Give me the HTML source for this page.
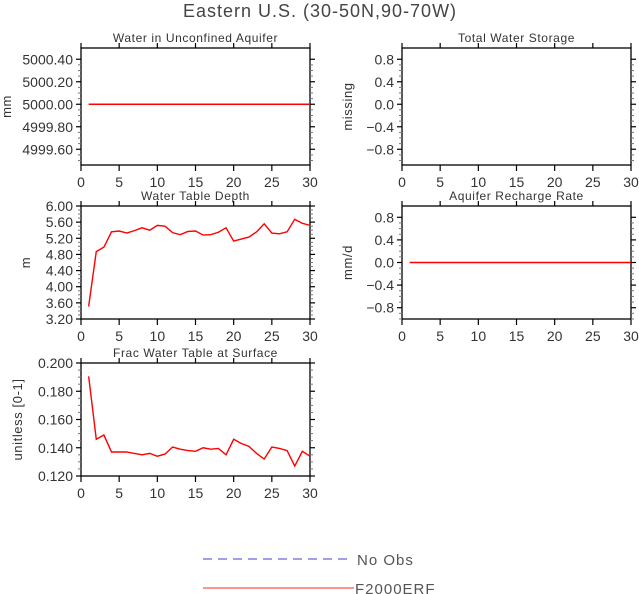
<!DOCTYPE html>
<html><head><meta charset="utf-8"><style>
html,body{margin:0;padding:0;background:#fff;}
svg{display:block;font-family:"Liberation Sans","DejaVu Sans",sans-serif;}
</style></head><body>
<svg id="chart" width="639" height="594" viewBox="0 0 639 594" xmlns="http://www.w3.org/2000/svg">
<text x="320" y="17" text-anchor="middle" font-size="18" letter-spacing="1" fill="#444">Eastern U.S. (30-50N,90-70W)</text>
<g>
<line x1="203" y1="559" x2="347" y2="559" stroke="#6666dd" stroke-width="1.2" stroke-dasharray="9,6"/>
<text x="357" y="565" font-size="15" letter-spacing="1" fill="#555">No Obs</text>
<line x1="203" y1="588" x2="354" y2="588" stroke="#ff5555" stroke-width="1.2"/>
<text x="355" y="594" font-size="15" letter-spacing="1" fill="#555">F2000ERF</text>
</g>
</svg>
<script>
const days = [];
for (let i = 1; i <= 30; i++) days.push(i);
const xTicks = [0,5,10,15,20,25,30];
const unconfinedValues = [5000,5000,5000,5000,5000,5000,5000,5000,5000,5000,5000,5000,5000,5000,5000,5000,5000,5000,5000,5000,5000,5000,5000,5000,5000,5000,5000,5000,5000,5000];
const unconfinedTicks = [4999.6,4999.8,5000.0,5000.2,5000.4];
const storageTicks = [-0.8,-0.4,0.0,0.4,0.8];
const depthValues = [3.51,4.87,4.98,5.36,5.38,5.33,5.39,5.46,5.40,5.52,5.50,5.34,5.29,5.37,5.38,5.28,5.29,5.35,5.46,5.13,5.18,5.23,5.36,5.56,5.33,5.31,5.36,5.67,5.57,5.52];
const depthTicks = [3.2,3.6,4.0,4.4,4.8,5.2,5.6,6.0];
const rechargeValues = [0,0,0,0,0,0,0,0,0,0,0,0,0,0,0,0,0,0,0,0,0,0,0,0,0,0,0,0,0,0];
const rechargeTicks = [-0.8,-0.4,0.0,0.4,0.8];
const fracValues = [0.1906,0.146,0.149,0.137,0.137,0.137,0.136,0.135,0.136,0.134,0.1355,0.1405,0.139,0.138,0.1375,0.140,0.139,0.1395,0.135,0.146,0.143,0.141,0.136,0.132,0.1405,0.1395,0.138,0.127,0.1375,0.134];
const fracTicks = [0.12,0.14,0.16,0.18,0.2];

const NS = "http://www.w3.org/2000/svg";
const svg = document.getElementById('chart');
function mk(tag, attrs, parent) {
  const e = document.createElementNS(NS, tag);
  for (const k in attrs) e.setAttribute(k, attrs[k]);
  parent.appendChild(e);
  return e;
}
function panel(opt) {
  const g = mk('g', {}, svg);
  
  
  const L = opt.x0, R = opt.x0 + 229, T = opt.t, B = opt.b;
  const xs = v => L + (v - 0) / 30 * (R - L);
  const ys = v => B - (v - opt.ymin) / (opt.ymax - opt.ymin) * (B - T);
  const frame = mk('rect', {x: L, y: T, width: R - L, height: B - T, fill: 'none', stroke: '#000', 'stroke-width': 1.3}, g);
  
  
  const title = mk('text', {x: (L + R) / 2, y: T - 6, 'text-anchor': 'middle', 'font-size': 12, 'letter-spacing': 0.6, fill: '#333'}, g);
  
  
  title.textContent = opt.title;
  xTicks.forEach(v => {
    const x = xs(v);
    mk('line', {x1: x, y1: T, x2: x, y2: T - 5, stroke: '#000', 'stroke-width': 1.2}, g);
    mk('line', {x1: x, y1: B, x2: x, y2: B + 6, stroke: '#000', 'stroke-width': 1.2}, g);
    const t = mk('text', {x: x, y: B + 22, 'text-anchor': 'middle', 'font-size': 14, fill: '#333'}, g);
    
    
    t.textContent = v;
  });
  const step = opt.ticks[1] - opt.ticks[0];
  opt.ticks.forEach((v, i) => {
    const y = ys(v);
    mk('line', {x1: L, y1: y, x2: L - 5, y2: y, stroke: '#000', 'stroke-width': 1.2}, g);
    mk('line', {x1: R, y1: y, x2: R + 5, y2: y, stroke: '#000', 'stroke-width': 1.2}, g);
    for (let k = 1; k < 4; k++) {
      const mv = v - step * k / 4;
      if (mv < opt.ymin) continue;
      const my = ys(mv);
      mk('line', {x1: L, y1: my, x2: L - 3, y2: my, stroke: '#777', 'stroke-width': 1}, g);
      mk('line', {x1: R, y1: my, x2: R + 3, y2: my, stroke: '#777', 'stroke-width': 1}, g);
    }
    const t = mk('text', {x: L - 8, y: y + 5, 'text-anchor': 'end', 'font-size': 14, fill: '#333'}, g);
    
    
    t.textContent = v.toFixed(opt.dec).replace('-', '\u2212');
  });
  const yl = mk('text', {x: 0, y: 0, 'text-anchor': 'middle', 'font-size': 13, 'letter-spacing': 0.6, fill: '#333', transform: 'translate(' + opt.ylx + ',' + ((T + B) / 2) + ') rotate(-90)'}, g);
  
  
  yl.textContent = opt.ylabel;
  if (opt.values) {
    const pts = opt.values.map((v, i) => xs(days[i]).toFixed(2) + ',' + ys(v).toFixed(2)).join(' ');
    const pl = mk('polyline', {points: pts, fill: 'none', stroke: '#ff0000', 'stroke-width': 1.4}, g);
    
    
  }
}
panel({name:'panel-water-unconfined-aquifer', title:'Water in Unconfined Aquifer', x0:81, t:48, b:165, ymin:4999.46, ymax:5000.5, ticks:unconfinedTicks, dec:2, ylabel:'mm', ylx:11, values:unconfinedValues});
panel({name:'panel-total-water-storage', title:'Total Water Storage', x0:402, t:48, b:165, ymin:-1.08, ymax:1.0, ticks:storageTicks, dec:1, ylabel:'missing', ylx:352, values:null});
panel({name:'panel-water-table-depth', title:'Water Table Depth', x0:81, t:206, b:319, ymin:3.2, ymax:6.0, ticks:depthTicks, dec:2, ylabel:'m', ylx:30, values:depthValues});
panel({name:'panel-aquifer-recharge-rate', title:'Aquifer Recharge Rate', x0:402, t:206, b:319, ymin:-1.0, ymax:1.0, ticks:rechargeTicks, dec:1, ylabel:'mm/d', ylx:352, values:rechargeValues});
panel({name:'panel-frac-water-table-surface', title:'Frac Water Table at Surface', x0:81, t:363, b:476, ymin:0.12, ymax:0.2, ticks:fracTicks, dec:3, ylabel:'unitless [0-1]', ylx:22, values:fracValues});
</script>
</body></html>
